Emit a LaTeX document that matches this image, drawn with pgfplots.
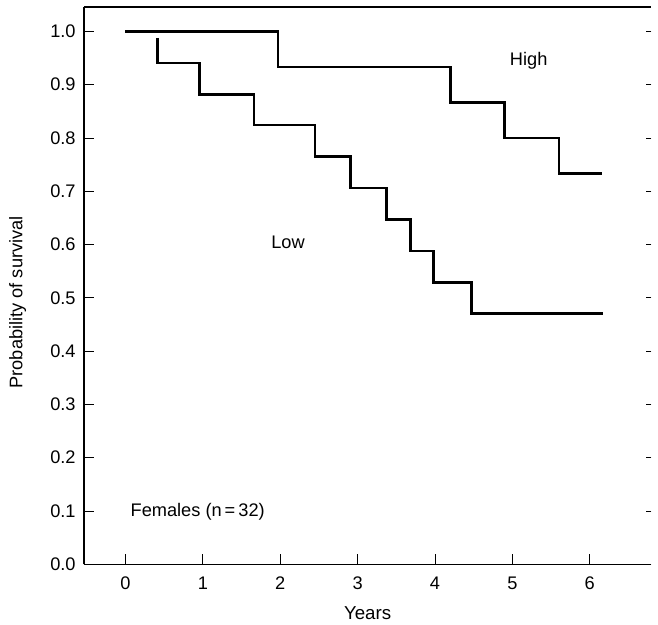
\documentclass[border=0pt]{standalone}
\usepackage{fontspec}
\setmainfont{Liberation Sans}
\usepackage{pgfplots}
\pgfplotsset{compat=1.18}

\begin{document}
\begin{tikzpicture}
\begin{axis}[
  scale only axis,
  width=574bp, height=564bp,
  xmin=-0.536, xmax=6.794,
  ymin=0, ymax=1.046,
  axis x line*=box, axis y line*=left,
  axis line style={line width=1.2pt},
  xtick={0,1,2,3,4,5,6},
  ytick={0,0.1,0.2,0.3,0.4,0.5,0.6,0.7,0.8,0.9,1.0},
  xtick pos=left, ytick pos=left,
  tick align=inside,
  major tick length=10bp,
  tick style={line width=0.9pt, black},
  /pgf/number format/assume math mode=true,
  tick label style={font=\fontsize{18.5}{21}\selectfont},
  yticklabel style={xshift=-5bp, /pgf/number format/.cd,fixed,fixed zerofill,precision=1},
  xticklabel style={yshift=-9bp},
  ylabel style={font=\fontsize{18.5}{21}\selectfont},
  xlabel style={font=\fontsize{19}{21}\selectfont},
  xlabel={Years},
  ylabel={Probability of survival},
  xlabel style={at={(axis description cs:0.5,-0.087)},anchor=center},
  ylabel style={at={(axis description cs:-0.117,0.47)},anchor=center},
  clip=false,
]
% high group
\addplot[const plot, line width=2.6pt, black] coordinates {
  (0,1.0) (1.97,0.933) (4.20,0.867) (4.90,0.800) (5.60,0.733) (6.16,0.733)
};
% low group
\addplot[const plot, line width=2.6pt, black] coordinates {
  (0.415,0.988) (0.415,0.941) (0.96,0.882) (1.66,0.824) (2.45,0.765) (2.91,0.706)
  (3.37,0.647) (3.68,0.588) (3.98,0.529) (4.47,0.471) (6.17,0.471)
};
\node[font=\fontsize{18.5}{21}\selectfont] at (axis cs:5.21,0.944) {High};
\node[font=\fontsize{18.5}{21}\selectfont] at (axis cs:2.10,0.605) {Low};
\node[font=\fontsize{18.5}{21}\selectfont, anchor=west, inner sep=0pt] at (axis cs:0.064,0.098) {Females (n\,=\,32)};
\coordinate (O) at (rel axis cs:0,0);
\end{axis}
% right-hand ticks, no spine
\begin{axis}[
  scale only axis,
  width=574bp, height=564bp,
  xmin=-0.536, xmax=6.794,
  ymin=0, ymax=1.046,
  axis x line=none, axis y line*=right,
  y axis line style={draw=none},
  ytick={0,0.1,0.2,0.3,0.4,0.5,0.6,0.7,0.8,0.9,1.0},
  yticklabels={},
  tick align=inside,
  major tick length=5bp,
  tick style={line width=0.9pt, black},
]
\end{axis}
\path (O) ++(-85bp,-61bp) rectangle ++(658bp,632bp);
\end{tikzpicture}
\end{document}
